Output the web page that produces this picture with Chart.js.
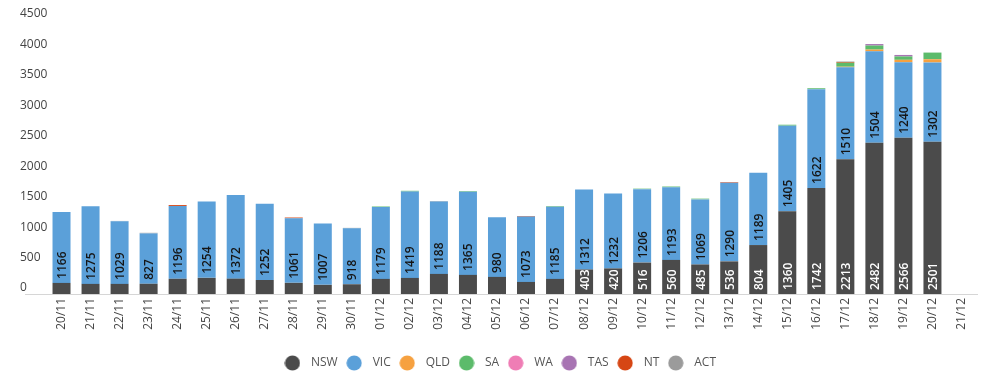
<!DOCTYPE html>
<html>
<head>
<meta charset="utf-8">
<script src="https://cdn.jsdelivr.net/npm/chart.js@4.4.0/dist/chart.umd.min.js"></script>
<style>
  html, body { margin: 0; padding: 0; background: #fff; }
  #wrap { width: 1006px; height: 378px; }
</style>
</head>
<body>
<div id="wrap"><canvas id="casesChart"></canvas></div>
<script>
// Daily cases by state, stacked
var dates = ['20/11', '21/11', '22/11', '23/11', '24/11', '25/11', '26/11', '27/11', '28/11', '29/11', '30/11',
    '01/12', '02/12', '03/12', '04/12', '05/12', '06/12', '07/12', '08/12', '09/12', '10/12', '11/12', '12/12',
    '13/12', '14/12', '15/12', '16/12', '17/12', '18/12', '19/12', '20/12', '21/12'];

var nsw = [182, 166, 166, 168, 250, 265, 252, 230, 183, 150, 160, 248, 264, 330, 314, 281, 198, 248,
    403, 420, 516, 560, 485, 536, 804, 1360, 1742, 2213, 2482, 2566, 2501, null];
var vic = [1166, 1275, 1029, 827, 1196, 1254, 1372, 1252, 1061, 1007, 918, 1179, 1419, 1188, 1365, 980, 1073, 1185,
    1312, 1232, 1206, 1193, 1069, 1290, 1189, 1405, 1622, 1510, 1504, 1240, 1302, null];
var qld = [0, 0, 0, 0, 0, 0, 0, 0, 0, 0, 0, 0, 0, 0, 0, 0, 0, 0,
    0, 0, 0, 0, 0, 0, 0, 0, 0, 10, 28, 40, 52, null];
var sa = [0, 0, 0, 0, 0, 0, 0, 0, 0, 0, 0, 10, 12, 0, 10, 0, 0, 10,
    0, 0, 8, 12, 12, 0, 0, 15, 15, 65, 66, 55, 110, null];
var wa = [0, 0, 0, 0, 0, 0, 0, 0, 0, 0, 0, 0, 0, 0, 0, 0, 0, 0,
    0, 0, 0, 0, 0, 0, 0, 0, 0, 0, 0, 0, 0, null];
var tas = [0, 0, 0, 0, 0, 0, 0, 0, 0, 0, 0, 0, 0, 0, 0, 0, 0, 0,
    0, 0, 0, 0, 0, 0, 0, 0, 0, 0, 25, 25, 0, null];
var nt = [0, 0, 0, 0, 15, 0, 0, 0, 12, 0, 0, 0, 0, 0, 0, 0, 10, 0,
    0, 0, 0, 0, 0, 10, 0, 0, 0, 12, 0, 0, 0, null];
var act = [0, 0, 5, 10, 0, 0, 0, 0, 0, 0, 8, 0, 0, 8, 0, 0, 0, 0,
    0, 0, 0, 0, 0, 0, 0, 0, 0, 8, 0, 0, 0, null];

var yMax = 4500;
var yStep = 500;

var stateNames = ['NSW', 'VIC', 'QLD', 'SA', 'WA', 'TAS', 'NT', 'ACT'];
var stateData = [nsw, vic, qld, sa, wa, tas, nt, act];
var stateColors = ['#4b4b4b', '#5ba0d9', '#f6a140', '#5cbb6b', '#ef7db5', '#a874b3', '#d64614', '#9b9b9b'];
var labelColors = ['#ffffff', '#151515'];

Chart.defaults.font.family = "'Open Sans', sans-serif";
Chart.defaults.font.size = 12;
Chart.defaults.color = '#444';

// round legend dots, drawn into small canvases so the gap to the text can be set
function dot(color) {
    var c = document.createElement('canvas');
    c.width = 16; c.height = 16;
    var g = c.getContext('2d');
    g.fillStyle = color;
    g.beginPath();
    g.arc(8, 8, 7.6, 0, Math.PI * 2);
    g.fill();
    return c;
}

// baseline that runs under the y labels too
var baseLine = {
    id: 'baseLine',
    beforeDatasetsDraw: function (chart) {
        var ctx = chart.ctx, area = chart.chartArea;
        ctx.save();
        ctx.strokeStyle = '#d6d6d6';
        ctx.lineWidth = 1;
        ctx.beginPath();
        ctx.moveTo(25, area.bottom + 0.5);
        ctx.lineTo(area.right + 2, area.bottom + 0.5);
        ctx.stroke();
        ctx.restore();
    }
};

// vertical value labels inside NSW and VIC segments
var stackLabels = {
    id: 'stackLabels',
    afterDatasetsDraw: function (chart) {
        var ctx = chart.ctx;
        ctx.save();
        ctx.font = '600 12px "Open Sans"';
        ctx.textAlign = 'left';
        ctx.textBaseline = 'middle';
        [0, 1].forEach(function (di) {
            var meta = chart.getDatasetMeta(di);
            var values = chart.data.datasets[di].data;
            meta.data.forEach(function (bar, i) {
                var v = values[i];
                if (v == null) return;
                var text = String(v);
                var h = bar.base - bar.y;
                if (h < ctx.measureText(text).width + 2) return;
                ctx.save();
                ctx.translate(bar.x + 1, bar.base - 4);
                ctx.rotate(-Math.PI / 2);
                ctx.fillStyle = labelColors[di];
                ctx.fillText(text, 0, 0);
                ctx.restore();
            });
        });
        ctx.restore();
    }
};

var datasets = stateNames.map(function (name, i) {
    return {
        label: name,
        data: stateData[i],
        backgroundColor: stateColors[i],
        pointStyle: dot(stateColors[i]),
        borderWidth: 0,
        categoryPercentage: 1,
        barPercentage: 0.62
    };
});

new Chart(document.getElementById('casesChart').getContext('2d'), {
    type: 'bar',
    data: { labels: dates, datasets: datasets },
    options: {
        responsive: true, maintainAspectRatio: false, animation: false,
        layout: { padding: { top: 20, left: 20, right: 30, bottom: -1 } },
        plugins: {
            tooltip: { enabled: false },
            legend: {
                position: 'bottom',
                labels: {
                    usePointStyle: true, pointStyleWidth: 25, boxHeight: 12,
                    padding: 4, color: '#555', font: { size: 12 }
                }
            }
        },
        scales: {
            x: {
                stacked: true,
                grid: { display: false, drawTicks: false }, border: { display: false },
                ticks: { autoSkip: false, minRotation: 90, maxRotation: 90, padding: 4, color: '#444' },
                afterFit: function (s) { s.height = 59; }
            },
            y: {
                stacked: true, min: 0, max: yMax,
                grid: { display: false, drawTicks: false }, border: { display: false },
                ticks: {
                    stepSize: yStep, crossAlign: 'far', labelOffset: -6, color: '#444',
                    callback: function (v) { return String(v); }
                },
                afterFit: function (s) { s.width = 27; }
            }
        }
    },
    plugins: [baseLine, stackLabels]
});
</script>
</body>
</html>
